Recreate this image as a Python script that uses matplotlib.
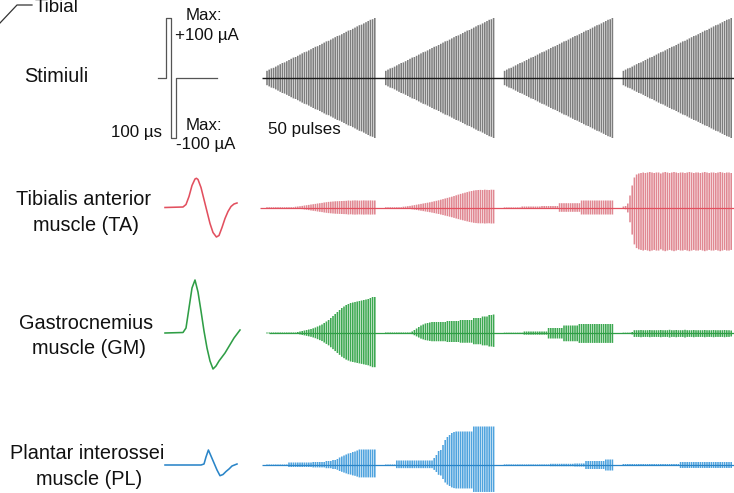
import matplotlib
matplotlib.use("Agg")
import matplotlib.pyplot as plt
from matplotlib.lines import Line2D

plt.rcParams["font.family"] = ["Liberation Sans", "DejaVu Sans"]

W, H, DPI = 734, 493, 100

# ---------------- data ----------------
n_pulses = 50
train_onsets = [0, 54, 108, 162]          # in pulse intervals

# stimulus amplitude ramp within one train (uA)
stim_amp_uA = [12, 14, 16, 17, 19, 21, 23, 25, 26, 28,
               30, 32, 34, 35, 37, 39, 41, 43, 44, 46,
               48, 50, 52, 53, 55, 57, 59, 61, 62, 64,
               66, 68, 70, 71, 73, 75, 77, 79, 80, 82,
               84, 86, 88, 89, 91, 93, 95, 97, 98, 100]

# single biphasic pulse (time in us, current in uA)
pulse_t_us = [-160, 0, 0, 100, 100, 200, 200, 1020]
pulse_i_uA = [0, 0, 100, 100, -100, -100, 0, 0]

# evoked response amplitude per pulse (positive peak, a.u.)
ta_trains = [
    [0.4] * 13 + [0.8, 1.0, 1.3, 1.6, 2.0, 2.3, 2.6,
                  3.0, 3.3, 3.6, 4.0, 4.3, 4.6, 5.0, 5.3, 5.6, 5.8,
                  6.0, 6.2, 6.3, 6.4, 6.5, 6.6, 6.7, 7.0, 6.8, 7.0,
                  7.1, 7.0, 6.9, 7.0, 7.1, 7.0, 7.0, 7.1, 7.0, 7.0],
    [0.4] * 8 + [0.8, 1.0,
                 1.3, 1.6, 2.0, 2.4, 2.8, 3.2, 3.6, 4.0, 4.4, 4.8,
                 5.2, 5.7, 6.2, 6.7, 7.2, 7.8, 8.4, 9.0, 9.6, 10.2,
                 10.8, 11.5, 12.2, 12.9, 13.6, 14.2, 14.8, 15.4, 16.0, 16.5,
                 17.0, 17.3, 17.5, 17.6, 17.5, 17.8, 17.6, 17.5, 17.8, 17.7],
    [0.3] * 8 + [1.0] * 9 + [1.5] * 8 + [4.3] * 10 + [7.0] * 15,
    [1.0, 1.5, 4.0, 12.0, 22.0, 30.0, 33.0, 34.0, 34.5, 35.0,
     34.5, 35.0, 35.5, 35.0, 34.5, 35.0, 35.0, 34.0, 35.0, 35.5,
     35.0, 34.5, 35.0, 35.5, 35.0, 34.5, 35.0, 35.0, 34.5, 35.0,
     35.5, 35.0, 34.5, 35.0, 35.0, 34.5, 35.0, 35.5, 35.0, 34.5,
     35.0, 35.0, 34.5, 35.0, 35.5, 35.0, 34.5, 35.0, 35.0, 34.5],
]
ta_neg_ratio = [1.0, 0.9, 1.0, 1.23]

gm_trains = [
    [0.5] * 14 + [1.0, 1.5, 2.0, 2.5, 3.0, 3.5,
                  4.0, 4.7, 5.5, 6.5, 7.5, 8.5, 10.0, 11.5, 13.0, 15.0,
                  17.0, 19.0, 21.0, 23.0, 25.0, 26.5, 28.0, 29.0, 30.0, 30.5,
                  31.0, 31.5, 32.0, 32.5, 33.0, 33.5, 34.0, 35.0, 36.0, 36.0],
    [0.5] * 12 + [1.5, 3.0, 4.5, 6.0, 7.5, 8.5, 9.5, 10.0,
                  10.5] + [11.0] * 7 + [12.0] * 6 + [13.0] * 6
    + [15.0] * 4 + [16.5] * 3 + [18.0, 18.0, 18.5],
    [0.3] * 9 + [1.5] * 11 + [5.0] * 7 + [7.5] * 7 + [9.0] * 16,
    [0.3, 0.3, 0.3, 0.3, 1.0, 2.8, 2.8, 2.8, 3.0, 2.8,
     2.8, 2.8, 3.0, 2.8, 2.8, 2.8, 2.8, 3.0, 2.8, 2.8,
     2.8, 3.2, 2.8, 2.8, 3.0, 2.8, 2.8, 2.8, 3.2, 2.8,
     2.8, 2.8, 3.0, 2.8, 2.8, 2.8, 2.8, 3.0, 2.8, 2.8,
     2.8, 3.0, 2.8, 2.8, 2.8, 2.8, 3.0, 2.8, 2.8, 2.5],
]
gm_neg_ratio = [0.95, 0.75, 1.1, 1.4]

pl_trains = [
    [0.5] * 10 + [2.5] * 11 + [3.0] * 6 + [4.0] * 3
    + [5.0, 5.0, 6.0, 7.5, 8.5, 9.5, 10.5, 11.5, 12.0, 13.0,
       13.5, 14.5] + [15.5] * 8,
    [0.5] * 5 + [4.5] * 17 + [7.0, 10.0, 14.0, 15.0, 20.0, 25.0, 28.0, 30.0,
                              32.0, 33.0] + [33.5] * 8 + [38.5] * 10,
    [0.6] * 21 + [1.2] * 11 + [1.5] * 5 + [4.0] * 9 + [5.5] * 4,
    [1.0] * 26 + [3.0] * 24,
]
pl_neg_ratio = [0.8, 0.7, 1.0, 1.0]

# averaged single evoked potentials (time in ms, amplitude a.u.)
ta_wave_t = [0.0, 0.9, 1.05, 1.2, 1.35, 1.5, 1.57, 1.65, 1.8, 1.95, 2.1,
             2.25, 2.4, 2.57, 2.7, 2.85, 3.0, 3.15, 3.3, 3.45, 3.6]
ta_wave_v = [0.0, 0.5, 3.0, 11.0, 22.0, 28.5, 29.2, 28.0, 20.0, 8.0, -4.0,
             -16.0, -25.0, -29.5, -28.0, -20.0, -11.0, -4.0, 1.0, 3.5, 4.5]

gm_wave_t = [0.0, 0.9, 1.05, 1.2, 1.35, 1.5, 1.65, 1.8, 1.95, 2.1, 2.25,
             2.4, 2.55, 2.7, 2.85, 3.0, 3.15, 3.3, 3.45, 3.6, 3.75]
gm_wave_v = [0.0, 0.5, 5.0, 25.0, 45.0, 53.0, 41.0, 22.0, 2.0, -15.0, -28.0,
             -36.0, -33.0, -28.0, -24.0, -20.0, -15.0, -10.0, -5.0, -1.0, 3.0]

pl_wave_t = [0.0, 1.8, 1.95, 2.05, 2.17, 2.3, 2.45, 2.6, 2.75, 2.9, 3.05,
             3.2, 3.35, 3.6]
pl_wave_v = [0.0, 0.0, 1.0, 8.0, 15.0, 9.0, 2.0, -5.0, -10.7, -9.5, -6.5,
             -4.0, -1.0, 1.0]

row_labels = [["Stimiuli"],
              ["Tibialis anterior", "muscle (TA)"],
              ["Gastrocnemius", "muscle (GM)"],
              ["Plantar interossei", "muscle (PL)"]]

# ---------------- layout ----------------
fig = plt.figure(figsize=(W / DPI, H / DPI), dpi=DPI)
fig.patch.set_facecolor("white")


def px_axes(x0, y0, x1, y1):
    ax = fig.add_axes([x0 / W, 1 - y1 / H, (x1 - x0) / W, (y1 - y0) / H])
    ax.set_axis_off()
    return ax


PX_PER_PULSE = 2.2
FIRST_ONSET_PX = 267
TRACE_LEFT_PX, TRACE_RIGHT_PX = 255, 734
trace_xlim = ((TRACE_LEFT_PX - FIRST_ONSET_PX) / PX_PER_PULSE,
              (TRACE_RIGHT_PX - FIRST_ONSET_PX) / PX_PER_PULSE)

PX_PER_MS = 20
WAVE_ONSET_PX = 165
WAVE_LEFT_PX, WAVE_RIGHT_PX = 155, 250
wave_xlim = ((WAVE_LEFT_PX - WAVE_ONSET_PX) / PX_PER_MS,
             (WAVE_RIGHT_PX - WAVE_ONSET_PX) / PX_PER_MS)


def row_axes(x0, x1, center, half, px_per_unit, xlim):
    ax = px_axes(x0, center - half, x1, center + half)
    ax.set_xlim(*xlim)
    ax.set_ylim(-half / px_per_unit, half / px_per_unit)
    return ax


PULSE_LW = 1.15

# ---- stimulus row ----
STIM_C, STIM_HALF, STIM_SCALE = 78, 70, 0.6   # px per uA
ax_s = row_axes(TRACE_LEFT_PX, TRACE_RIGHT_PX, STIM_C, STIM_HALF, STIM_SCALE,
                trace_xlim)
for onset in train_onsets:
    xs = [onset + k for k in range(n_pulses)]
    ax_s.vlines(xs, [-a for a in stim_amp_uA], stim_amp_uA,
                colors="#7d7d7d", lw=PULSE_LW, clip_on=False, snap=False)
ax_s.plot([(262 - FIRST_ONSET_PX) / PX_PER_PULSE, trace_xlim[1]], [0, 0],
          color="#1a1a1a", lw=1.0, solid_capstyle="butt")

# single pulse shape
PULSE_ONSET_PX, PX_PER_US = 166, 0.05
ax_p = row_axes(150, 230, STIM_C, STIM_HALF, STIM_SCALE,
                ((150 - PULSE_ONSET_PX) / PX_PER_US,
                 (230 - PULSE_ONSET_PX) / PX_PER_US))
ax_p.plot(pulse_t_us, pulse_i_uA, color="#555555", lw=0.9)

# ---- muscle rows ----
muscle_rows = [
    (207.5, 50, ta_trains, ta_neg_ratio, ta_wave_t, ta_wave_v,
     "#e08892", "#e2505f", 260),
    (333, 56, gm_trains, gm_neg_ratio, gm_wave_t, gm_wave_v,
     "#3da851", "#2f9e46", 269),
    (465, 42, pl_trains, pl_neg_ratio, pl_wave_t, pl_wave_v,
     "#4fa3de", "#2a85c8", 262),
]
for center, half, trains, neg, wt, wv, c_train, c_wave, base_px in muscle_rows:
    ax = row_axes(TRACE_LEFT_PX, TRACE_RIGHT_PX, center, half, 1.0, trace_xlim)
    for onset, amps, r in zip(train_onsets, trains, neg):
        xs = [onset + k for k in range(n_pulses)]
        ax.vlines(xs, [-a * r for a in amps], amps,
                  colors=c_train, lw=PULSE_LW, clip_on=False, snap=False)
    ax.plot([(base_px - FIRST_ONSET_PX) / PX_PER_PULSE, trace_xlim[1]], [0, 0],
            color=c_wave, lw=0.9, solid_capstyle="butt")

    axw = row_axes(WAVE_LEFT_PX, WAVE_RIGHT_PX, center, half, 1.0, wave_xlim)
    axw.plot(wt, wv, color=c_wave, lw=1.15, solid_joinstyle="round")

# ---------------- text ----------------
def ftext(x, y, s, size=14.3, ha="left", **kw):
    fig.text(x / W, 1 - y / H, s, fontsize=size, ha=ha, va="baseline",
             color="#111111", **kw)


ftext(56, 82, row_labels[0][0], ha="center")
ftext(83, 205, row_labels[1][0], ha="center")
ftext(86, 231, row_labels[1][1], ha="center")
ftext(86, 329, row_labels[2][0], ha="center")
ftext(89, 354.5, row_labels[2][1], ha="center")
ftext(87, 459, row_labels[3][0], ha="center")
ftext(89, 485, row_labels[3][1], ha="center")

ftext(185.5, 20.5, "Max:", size=12.2)
ftext(175, 40, "+100 µA", size=12.2)
ftext(185.5, 130.5, "Max:", size=12.2)
ftext(175.5, 149, "-100 µA", size=12.2)
ftext(162, 137.5, "100 µs", size=12.2, ha="right")
ftext(268, 134, "50 pulses", size=12.2)

# nerve label with leader
ftext(35, 12, "Tibial", size=13.5)
fig.add_artist(Line2D([0 / W, 17 / W, 32 / W],
                      [1 - 23 / H, 1 - 5 / H, 1 - 5 / H],
                      transform=fig.transFigure, color="#333333", lw=0.9))

fig.savefig("out.png", dpi=DPI, facecolor="white")
